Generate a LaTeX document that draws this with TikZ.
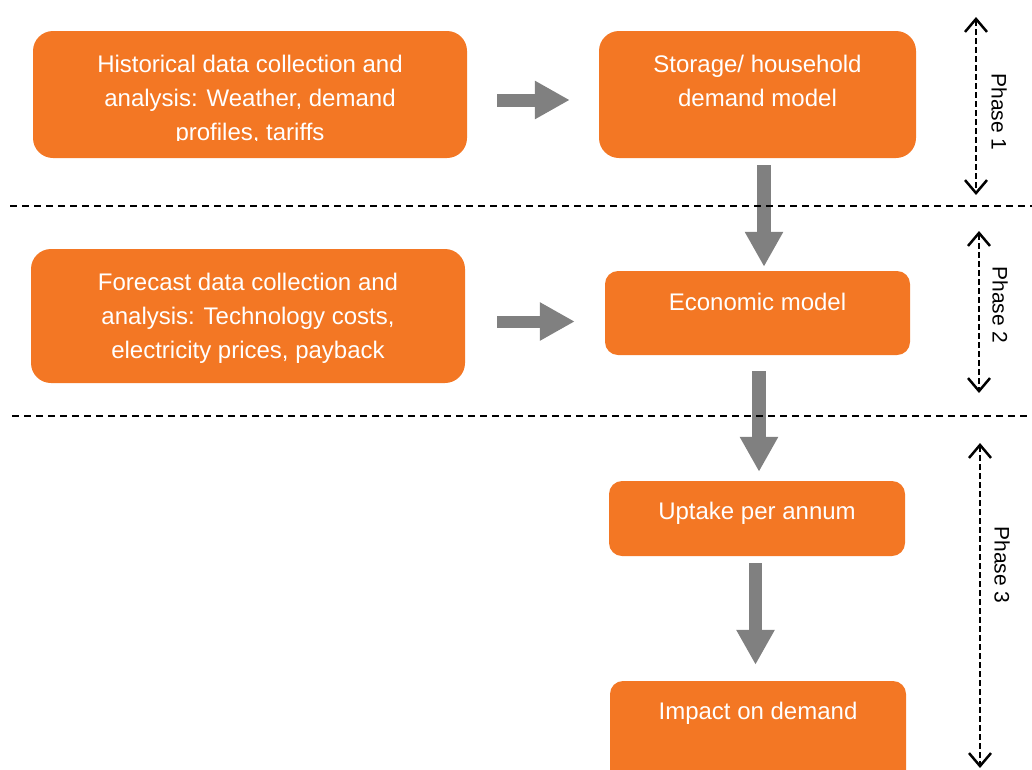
\documentclass[tikz,border=0pt]{standalone}
\usepackage{fontspec}
\setmainfont{Liberation Sans}
\usetikzlibrary{arrows.meta}
\definecolor{boxorange}{RGB}{243,119,36}
\definecolor{arrowgray}{RGB}{128,128,128}
\begin{document}
\begin{tikzpicture}[x=1pt,y=-1pt,
  box/.style={fill=boxorange, draw=none, inner sep=0pt, rounded corners=#1},
  box/.default=20pt,
  boxtext/.style={text=white, font=\fontsize{24}{34}\selectfont, align=center, anchor=north, inner sep=0pt},
  blockarrow/.style={draw=arrowgray, line width=13pt, -{Triangle[width=36pt,length=35pt]}, arrowgray},
  sepline/.style={draw=black, line width=1.6pt, dash pattern=on 7pt off 5pt},
  phasearrow/.style={draw=black, line width=2.5pt, dash pattern=on 6pt off 3pt,
    {Straight Barb[length=13pt,width=22pt,line width=2.5pt]}-{Straight Barb[length=13pt,width=22pt,line width=2.5pt]}},
  phaselabel/.style={font=\fontsize{21}{25}\selectfont, rotate=-90, inner sep=0pt}]
\useasboundingbox (0,0) rectangle (1032,769);
\clip (0,0) rectangle (1032,769);
% boxes
\node[box, minimum width=434, minimum height=127] (hist) at (250,94.5) {};
\node[box, minimum width=317, minimum height=127] (stor) at (757.5,94.5) {};
\node[box, minimum width=434, minimum height=134] (fore) at (248,316) {};
\node[box=13pt, minimum width=305, minimum height=84] (econ) at (757.5,313) {};
\node[box=13pt, minimum width=296, minimum height=75] (upt) at (757,518.5) {};
\node[box=13pt, minimum width=296, minimum height=119] (imp) at (758,740.5) {};
% texts
\begin{scope}
  \clip (33,31) rectangle (467,140.5);
  \node[boxtext] (histtext) at (250,54.5) {Historical data collection and\\analysis: Weather, demand\\profiles, tariffs};
\end{scope}
\node[boxtext] (stortext) at (757.5,54.5) {Storage/ household\\demand model};
\node[boxtext] (foretext) at (248,272.5) {Forecast data collection and\\analysis: Technology costs,\\electricity prices, payback};
\node[boxtext] (econtext) at (757.5,292.5) {Economic model};
\node[boxtext] (upttext) at (757,501.5) {Uptake per annum};
\node[boxtext] (imptext) at (758,701.5) {Impact on demand};
% block arrows
\draw[blockarrow] ([shift={(30,5.5)}]hist.east) -- ([shift={(-29,5.5)}]stor.west);
\draw[blockarrow, line width=12pt] ([shift={(32,5.5)}]fore.east) -- ([shift={(-30,8.5)}]econ.west);
\draw[blockarrow, line width=14pt] ([shift={(6.5,7)}]stor.south) -- ([shift={(6.5,-4)}]econ.north);
\draw[blockarrow, line width=14pt] ([shift={(1.5,16)}]econ.south) -- ([shift={(2,-9)}]upt.north);
\draw[blockarrow] ([shift={(-1.5,7)}]upt.south) -- ([shift={(-2.5,-16)}]imp.north);
% separators
\coordinate (s1a) at (10,206);
\coordinate (s1b) at (1032,206);
\coordinate (s2a) at (12,416);
\coordinate (s2b) at (1032,416);
\draw[sepline] (s1a) -- (s1b);
\draw[sepline] (s2a) -- (s2b);
% phase arrows
\coordinate (p1t) at (976,17);
\coordinate (p1b) at (976,195);
\coordinate (p2t) at (979,231);
\coordinate (p2b) at (979,393);
\coordinate (p3t) at (980,443);
\coordinate (p3b) at (980,768);
\draw[phasearrow] (p1t) -- (p1b);
\draw[phasearrow] (p2t) -- (p2b);
\draw[phasearrow] (p3t) -- (p3b);
\node[phaselabel] (ph1) at (999,112) {Phase 1};
\node[phaselabel] (ph2) at (1000,305) {Phase 2};
\node[phaselabel] (ph3) at (1002,565) {Phase 3};
\end{tikzpicture}
\end{document}
